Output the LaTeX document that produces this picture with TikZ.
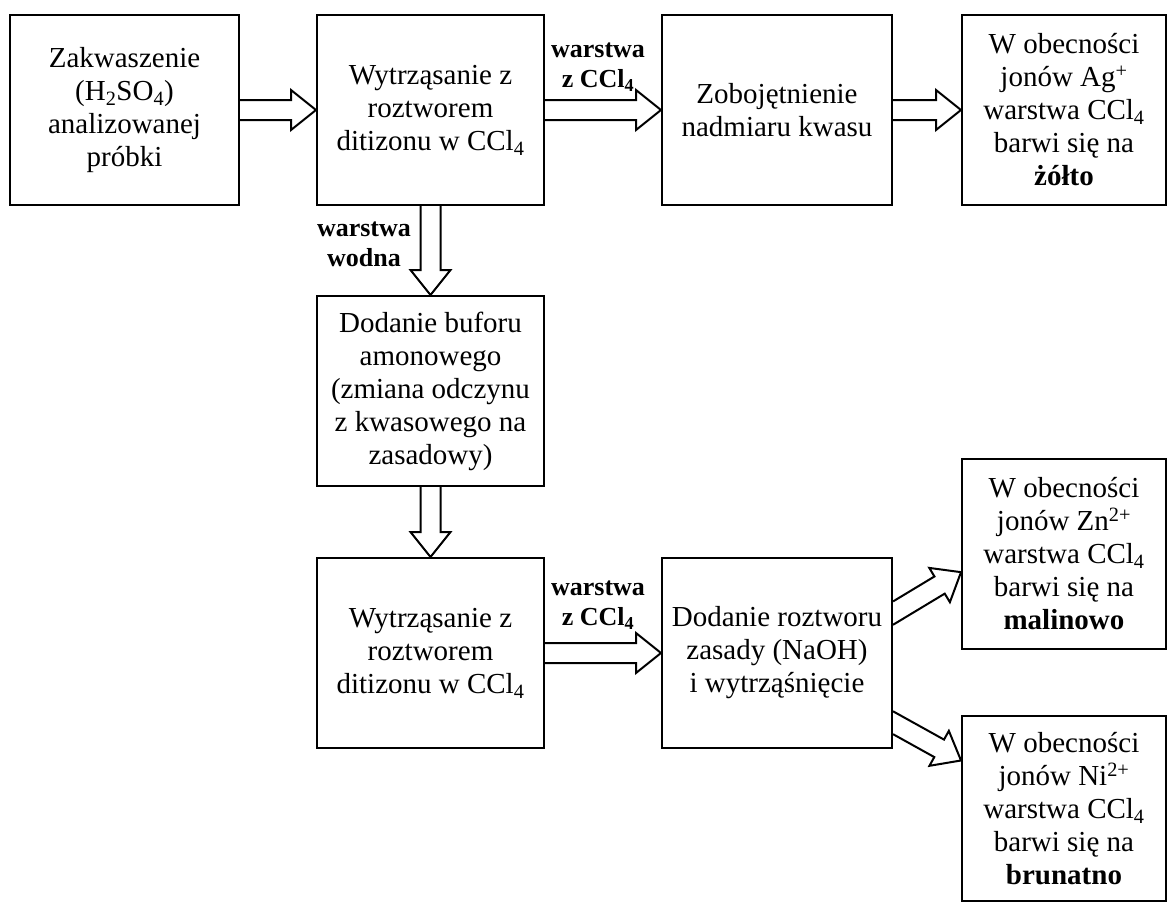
\documentclass[tikz,border=0pt]{standalone}
\usepackage{fontspec}
\setmainfont{Liberation Serif}
\usetikzlibrary{calc}

% hollow block arrow from #1 to #2
\newcommand{\fatarrow}[2]{%
  \coordinate (hb) at ($(#2)!25pt!(#1)$);
  \draw[fat] ($(#1)!10pt!90:(#2)$) -- ($(hb)!10pt!90:(#2)$) -- ($(hb)!20pt!90:(#2)$) -- (#2)
    -- ($(hb)!20pt!-90:(#2)$) -- ($(hb)!10pt!-90:(#2)$) -- ($(#1)!10pt!-90:(#2)$);}
% same, but the shaft leaves the east side of node #3 at a slant
\newcommand{\slantarrow}[3]{%
  \coordinate (e1) at (#3.north east); \coordinate (e2) at (#3.south east);
  \coordinate (hb) at ($(#2)!25pt!(#1)$);
  \coordinate (sl) at ($(#1)!10pt!90:(#2)$); \coordinate (hl) at ($(hb)!10pt!90:(#2)$);
  \coordinate (sr) at ($(#1)!10pt!-90:(#2)$); \coordinate (hr) at ($(hb)!10pt!-90:(#2)$);
  \draw[fat] (intersection of e1--e2 and sl--hl) -- (hl) -- ($(hb)!20pt!90:(#2)$) -- (#2)
    -- ($(hb)!20pt!-90:(#2)$) -- (hr) -- (intersection of e1--e2 and sr--hr);}

\begin{document}
\begin{tikzpicture}[x=1pt, y=-1pt, line width=2pt,
  box/.style={draw, minimum height=190pt, inner sep=0pt, align=center, font=\fontsize{29}{33}\selectfont},
  lbl/.style={align=center, font=\fontsize{26}{30}\selectfont\bfseries},
  fat/.style={line join=miter}]
\useasboundingbox (0,0) rectangle (1176,903);
% top row
\node[box, minimum width=229pt] (acid) at (124.5,110) {Zakwaszenie\\(H\textsubscript{2}SO\textsubscript{4})\\analizowanej\\próbki};
\node[box, minimum width=227pt] (shake1) at (430.5,110) {Wytrząsanie z\\roztworem\\ditizonu w CCl\textsubscript{4}};
\node[box, minimum width=230pt] (neutral) at (777,110) {Zobojętnienie\\nadmiaru kwasu};
\node[box, minimum width=204pt] (ag) at (1064,110) {W obecności\\jonów Ag\textsuperscript{+}\\warstwa CCl\textsubscript{4}\\barwi się na\\\textbf{żółto}};
% middle column
\node[box, minimum width=227pt] (buffer) at (430.5,391) {Dodanie buforu\\amonowego\\(zmiana odczynu\\z kwasowego na\\zasadowy)};
\node[box, minimum width=227pt] (shake2) at (430.5,653) {Wytrząsanie z\\roztworem\\ditizonu w CCl\textsubscript{4}};
\node[box, minimum width=230pt] (base) at (777,653) {Dodanie roztworu\\zasady (NaOH)\\i wytrząśnięcie};
% results
\node[box, minimum width=204pt] (zn) at (1064,554) {W obecności\\jonów Zn\textsuperscript{2+}\\warstwa CCl\textsubscript{4}\\barwi się na\\\textbf{malinowo}};
\node[box, minimum width=204pt, minimum height=185pt] (ni) at (1064,808.5) {W obecności\\jonów Ni\textsuperscript{2+}\\warstwa CCl\textsubscript{4}\\barwi się na\\\textbf{brunatno}};
% labels
\node[lbl] (org1) at (598,67) {warstwa\\z CCl\textsubscript{4}};
\node[lbl] (aq) at (364,244) {warstwa\\wodna};
\node[lbl] (org2) at (598,605) {warstwa\\z CCl\textsubscript{4}};
% arrows
\fatarrow{acid.east}{shake1.west}
\fatarrow{shake1.east}{neutral.west}
\fatarrow{neutral.east}{ag.west}
\fatarrow{shake1.south}{buffer.north}
\fatarrow{buffer.south}{shake2.north}
\fatarrow{shake2.east}{base.west}
\slantarrow{base.19}{zn.190}{base}
\slantarrow{base.-31}{ni.155}{base}
\end{tikzpicture}
\end{document}
